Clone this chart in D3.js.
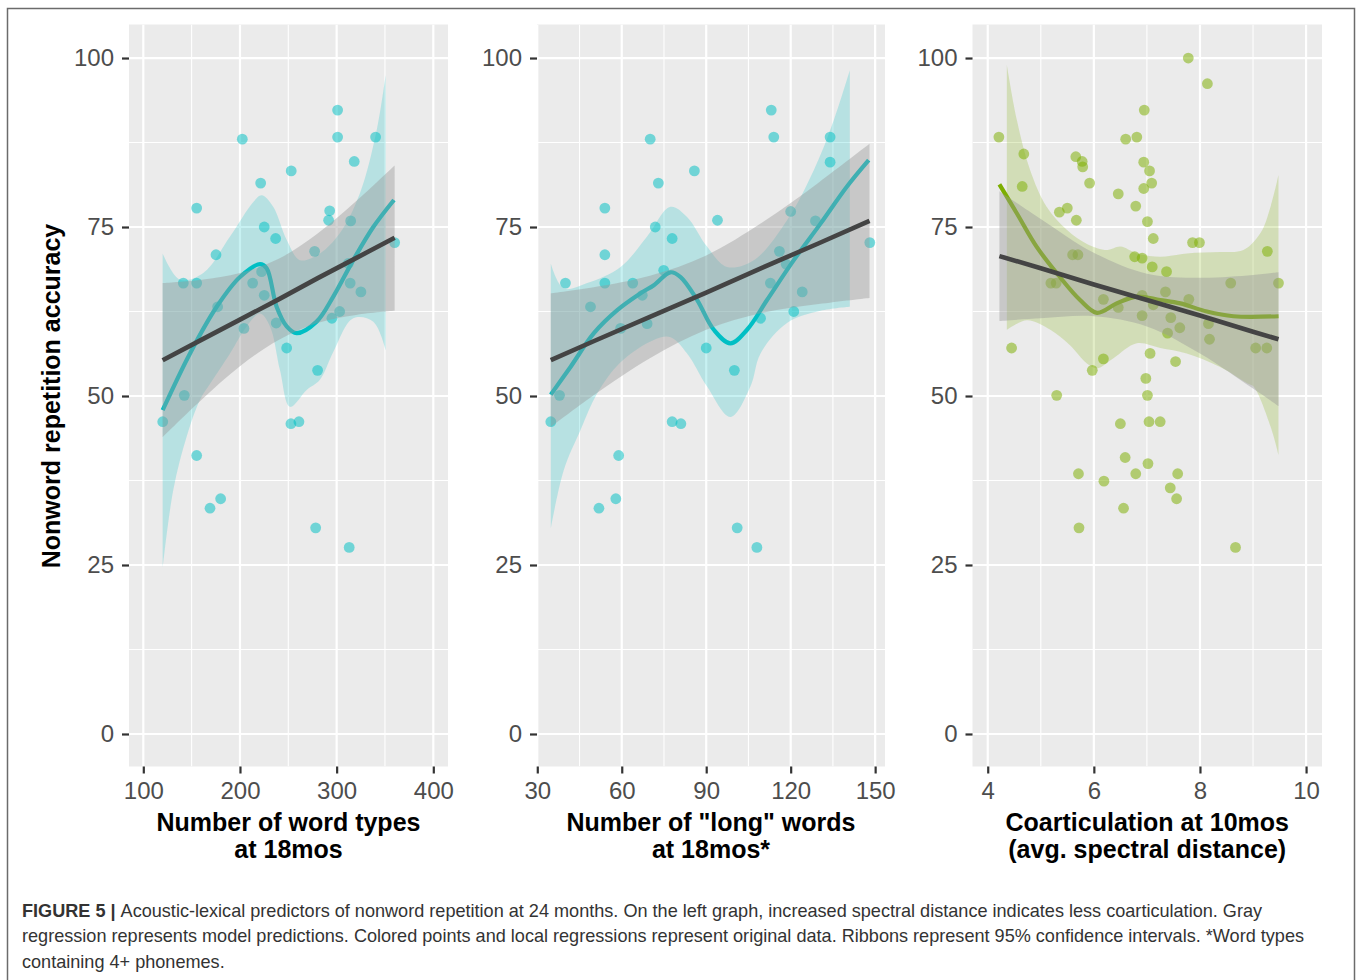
<!DOCTYPE html>
<html><head><meta charset="utf-8">
<script src="https://cdn.jsdelivr.net/npm/d3@7"></script>
<style>body{margin:0;background:#fff} svg{display:block}</style>
</head><body>
<svg id="chart" width="1357" height="980"></svg>
<script>
// ---------- data ----------
const yTicks = [0, 25, 50, 75, 100];
const yMinor = [12.5, 37.5, 62.5, 87.5];

const wordTypesTicks = [100, 200, 300, 400];
const wordTypesMinor = [150, 250, 350];
const longWordsTicks = [30, 60, 90, 120, 150];
const longWordsMinor = [45, 75, 105, 135];
const coartTicks = [4, 6, 8, 10];
const coartMinor = [5, 7, 9];

// panel 1: word types at 18mos vs accuracy
const wordTypesX = [301,202.4,301,340.3,318.2,253,221.4,155.2,292.8,291.7,314.5,225.1,236.9,175.2,277.2,360,222.4,312,141.4,155.2,213.1,314,225.1,325.1,176.9,303.1,295.1,204.1,237.5,248.3,280.3,142.4,120.1,155.2,252.7,261,180,169,278.3,313];
const wordTypesY = [92.3,88.0,88.3,88.3,84.7,83.3,81.5,77.8,77.4,76.0,75.9,75.0,73.3,70.9,71.4,72.7,68.4,69.6,66.7,66.7,66.7,66.7,64.9,65.4,63.2,62.5,61.5,60.0,60.8,57.1,53.8,50.1,46.2,41.2,45.9,46.2,34.8,33.4,30.5,27.6];

const wtLoessX = [120,148.3,175.9,200,220.7,227.6,237.9,248.3,258.6,279.3,296.5,317.2,337.9,359.3];
const wtLoessY = [47.9,56.3,63.2,67.6,69.5,68.9,63.2,60.3,59.3,61.0,64.7,70.1,75.0,79.0];
const wtBandUpX = [120,138,162,189.7,213.8,222.4,234.4,248.3,262,282.7,303.4,324.1,341.4,350.7];
const wtBandUpY = [71.1,67.2,68.2,73.6,78.7,79.7,78.0,73.1,70.1,71.1,74.1,80.0,89.3,97.5];
const wtBandLoX = [120,131,144.9,158.6,170,189.7,207,220.7,231,241.4,251.7,269,282.7,296.5,317.2,337.9,350.7];
const wtBandLoY = [24.5,36.1,44.0,49.4,52.0,56.3,60.3,62.2,60.3,53.8,48.4,50.9,52.4,56.5,61.5,61.0,56.8];
const wtModelX = [120,160,200,240,280,320,360];
const wtModelFit = [55.3,58.3,61.3,64.3,67.4,70.4,73.4];
const wtModelLo = [43.9,49.4,54.4,58.3,60.8,62.0,62.6];
const wtModelHi = [66.7,67.2,68.2,70.3,74.0,78.8,84.1];

// panel 2: "long" words at 18mos vs accuracy
const longWordsX = [113.1,70.1,114,134,134,85.8,73,54,120,94,128.8,71.9,77.9,54,116,148.1,74.9,118.4,40,54,63.9,112.8,67.3,124.1,48.9,121.1,109.3,69,59.6,90,100,37.9,34.8,58.9,77.9,81,57.9,51.9,101,108];
const longWordsY = [92.3,88.0,88.3,88.3,84.6,83.3,81.5,77.8,77.3,76.0,75.9,75.0,73.3,70.9,71.4,72.7,68.6,69.5,66.7,66.7,66.7,66.7,64.9,65.4,63.2,62.5,61.5,60.7,60.0,57.1,53.8,50.1,46.2,41.2,46.2,45.9,34.8,33.4,30.5,27.6];

const lwLoessX = [34.8,41.8,50.1,58.4,66.7,71.4,77.3,80.9,86.8,92.7,98.6,104.5,111.6,121.1,130.6,140,147.7];
const lwLoessY = [50.2,54.3,59.3,62.7,65.2,66.4,68.3,67.6,64.2,59.8,57.8,59.8,64.2,70.1,75.5,81.0,84.9];
const lwBandUpX = [34.8,39.4,47.7,59.6,69,77.3,83.2,90.3,97.4,106.9,118.7,128.2,135.3,141];
const lwBandUpY = [69.6,65.9,66.7,69.1,73.6,78.0,76.5,72.1,69.1,70.1,76.0,83.4,90.8,98.2];
const lwBandLoX = [34.8,39.4,45.4,51.3,59.6,71.4,77.3,83.2,90.3,98.6,105.7,109.3,118.7,130.6,141];
const lwBandLoY = [30.4,39.0,45.0,50.4,55.0,58.3,58.7,56.3,51.4,46.9,51.4,56.3,60.8,62.6,63.2];
const lwModelX = [34.8,50,70,90,110,130,148];
const lwModelFit = [55.3,58.1,61.7,65.3,69.0,72.6,75.9];
const lwModelLo = [45.4,50.1,55.6,59.8,62.3,63.6,64.5];
const lwModelHi = [65.2,66.1,67.8,70.8,75.7,81.6,87.3];

// panel 3: coarticulation at 10mos vs accuracy
const coartX = [7.78,8.14,6.95,4.21,6.60,6.81,4.68,5.66,5.78,5.79,6.94,7.05,5.92,7.09,4.65,6.94,6.46,6.79,5.35,5.50,5.67,7.01,7.12,7.86,7.99,9.27,5.60,5.70,6.77,6.91,7.10,7.37,5.19,5.29,8.58,9.48,7.35,6.18,6.91,7.79,6.46,7.12,6.91,7.45,8.16,7.62,7.39,8.18,4.45,9.05,9.26,7.06,6.18,7.54,5.97,6.98,5.30,7.01,6.50,7.04,7.25,6.59,7.02,5.71,6.79,7.58,6.19,7.44,7.56,6.56,5.72,8.67];
const coartY = [100,96.2,92.3,88.3,88.0,88.3,85.8,85.4,84.7,83.9,84.6,83.3,81.5,81.5,81.0,80.7,79.9,78.1,77.2,77.8,76.0,75.8,73.3,72.7,72.7,71.4,70.9,70.9,70.6,70.4,69.1,68.4,66.7,66.7,66.7,66.7,65.4,64.3,64.9,64.3,63.1,63.5,61.9,61.6,60.7,60.1,59.3,58.4,57.1,57.1,57.1,56.3,55.5,55.1,53.8,52.6,50.1,50.1,45.9,46.2,46.2,40.9,40.0,38.5,38.5,38.5,37.4,36.4,34.8,33.4,30.5,27.6];

const coLoessX = [4.22,4.55,4.92,5.36,5.74,6.06,6.43,6.81,7.25,7.63,8.13,8.63,9.48];
const coLoessY = [81.3,77.0,72.1,67.6,64.2,62.3,63.7,64.7,64.2,63.7,62.5,61.8,61.8];
const coBandUpX = [4.36,4.55,4.80,5.11,5.49,5.87,6.25,6.50,6.81,7.25,7.75,8.38,8.82,9.14,9.33,9.48];
const coBandUpY = [99.0,90.8,83.4,78.0,74.6,72.5,71.6,72.1,71.1,70.6,71.1,71.3,71.6,74.1,78.0,82.7];
const coBandLoX = [4.36,4.74,5.18,5.55,5.87,6.06,6.37,6.81,7.25,7.75,8.38,8.89,9.01,9.33,9.48];
const coBandLoY = [59.8,61.2,59.8,57.5,54.8,54.1,55.6,57.8,57.1,56.3,54.3,51.9,51.4,45.5,41.3];
const coModelX = [4.22,5,6,7,8,9,9.48];
const coModelFit = [70.7,68.9,66.5,64.2,61.9,59.5,58.4];
const coModelLo = [61.1,61.5,61.8,60.3,56.3,51.1,48.5];
const coModelHi = [80.3,76.2,71.2,68.1,67.5,67.9,68.3];

const xTitles = [["Number of word types", "at 18mos"], ["Number of \"long\" words", "at 18mos*"], ["Coarticulation at 10mos", "(avg. spectral distance)"]];
const yTitle = "Nonword repetition accuracy";
const captionBold = "FIGURE 5 |";
const captionLines = [
  "Acoustic-lexical predictors of nonword repetition at 24 months. On the left graph, increased spectral distance indicates less coarticulation. Gray",
  "regression represents model predictions. Colored points and local regressions represent original data. Ribbons represent 95% confidence intervals. *Word types",
  "containing 4+ phonemes."
];

// ---------- drawing ----------
const svg = d3.select("#chart");
const FONT = "'Liberation Sans', Arial, Helvetica, sans-serif";
const yTop = 24.5, yBottom = 766.5;
const y = d3.scaleLinear().domain([-4.81, 104.96]).range([yBottom, yTop]);

svg.append("rect").attr("x", 7.5).attr("y", 8.5).attr("width", 1347).attr("height", 1000)
  .attr("fill", "none").attr("stroke", "#6b6b6b").attr("stroke-width", 1.5);

const zip = (a, b) => a.map((v, i) => [v, b[i]]);

const panels = [
  { x0: 129, x1: 448, dom: [85.2, 415.2], ticks: wordTypesTicks, minor: wordTypesMinor,
    px: wordTypesX, py: wordTypesY, lx: wtLoessX, ly: wtLoessY,
    bux: wtBandUpX, buy: wtBandUpY, blx: wtBandLoX, bly: wtBandLoY,
    mx: wtModelX, mf: wtModelFit, mlo: wtModelLo, mhi: wtModelHi, color: "#00BFC4", title: xTitles[0] },
  { x0: 537, x1: 885, dom: [29.9, 153.5], ticks: longWordsTicks, minor: longWordsMinor,
    px: longWordsX, py: longWordsY, lx: lwLoessX, ly: lwLoessY,
    bux: lwBandUpX, buy: lwBandUpY, blx: lwBandLoX, bly: lwBandLoY,
    mx: lwModelX, mf: lwModelFit, mlo: lwModelLo, mhi: lwModelHi, color: "#00BFC4", title: xTitles[1] },
  { x0: 972.5, x1: 1322, dom: [3.713, 10.30], ticks: coartTicks, minor: coartMinor,
    px: coartX, py: coartY, lx: coLoessX, ly: coLoessY,
    bux: coBandUpX, buy: coBandUpY, blx: coBandLoX, bly: coBandLoY,
    mx: coModelX, mf: coModelFit, mlo: coModelLo, mhi: coModelHi, color: "#7CAE00", title: xTitles[2] }
];

const defs = svg.append("defs");

panels.forEach((p, i) => {
  const x = d3.scaleLinear().domain(p.dom).range([p.x0, p.x1]);
  const g = svg.append("g");
  defs.append("clipPath").attr("id", "clip" + i).append("rect")
    .attr("x", p.x0).attr("y", yTop).attr("width", p.x1 - p.x0).attr("height", yBottom - yTop);

  g.append("rect").attr("x", p.x0).attr("y", yTop).attr("width", p.x1 - p.x0).attr("height", yBottom - yTop)
    .attr("fill", "#EBEBEB");

  const grid = g.append("g").attr("clip-path", `url(#clip${i})`);
  grid.selectAll(".ymin").data(yMinor).join("line")
    .attr("x1", p.x0).attr("x2", p.x1).attr("y1", d => y(d)).attr("y2", d => y(d))
    .attr("stroke", "#fff").attr("stroke-width", 1.1);
  grid.selectAll(".xmin").data(p.minor).join("line")
    .attr("y1", yTop).attr("y2", yBottom).attr("x1", d => x(d)).attr("x2", d => x(d))
    .attr("stroke", "#fff").attr("stroke-width", 1.1);
  grid.selectAll(".ymaj").data(yTicks).join("line")
    .attr("x1", p.x0).attr("x2", p.x1).attr("y1", d => y(d)).attr("y2", d => y(d))
    .attr("stroke", "#fff").attr("stroke-width", 2.2);
  grid.selectAll(".xmaj").data(p.ticks).join("line")
    .attr("y1", yTop).attr("y2", yBottom).attr("x1", d => x(d)).attr("x2", d => x(d))
    .attr("stroke", "#fff").attr("stroke-width", 2.2);

  const marks = g.append("g").attr("clip-path", `url(#clip${i})`);
  const curveLine = d3.line().x(d => x(d[0])).y(d => y(d[1])).curve(d3.curveCatmullRom.alpha(0.5));
  // colored loess ribbon
  const up = curveLine(zip(p.bux, p.buy));
  const lo = curveLine(zip(p.blx, p.bly).reverse());
  marks.append("path").attr("d", up + "L" + lo.slice(1) + "Z")
    .attr("fill", p.color).attr("fill-opacity", 0.22);
  // points
  marks.selectAll("circle").data(zip(p.px, p.py)).join("circle")
    .attr("cx", d => x(d[0])).attr("cy", d => y(d[1])).attr("r", 5.4)
    .attr("fill", p.color).attr("fill-opacity", 0.52);
  // loess line
  marks.append("path").attr("d", curveLine(zip(p.lx, p.ly)))
    .attr("fill", "none").attr("stroke", p.color).attr("stroke-width", 4.2).attr("stroke-linecap", "butt");
  // model ribbon
  const area = d3.area().x(d => x(d[0])).y0(d => y(d[1])).y1(d => y(d[2])).curve(d3.curveCatmullRom.alpha(0.5));
  marks.append("path").attr("d", area(p.mx.map((v, k) => [v, p.mlo[k], p.mhi[k]])))
    .attr("fill", "#999999").attr("fill-opacity", 0.42);
  // model line
  const straight = d3.line().x(d => x(d[0])).y(d => y(d[1]));
  marks.append("path").attr("d", straight(zip(p.mx, p.mf)))
    .attr("fill", "none").attr("stroke", "#444444").attr("stroke-width", 4.6);

  // axes
  const ya = g.append("g").attr("transform", `translate(${p.x0},0)`)
    .call(d3.axisLeft(y).tickValues(yTicks).tickSize(7).tickPadding(8).tickFormat(d3.format("d")));
  const xa = g.append("g").attr("transform", `translate(0,${yBottom})`)
    .call(d3.axisBottom(x).tickValues(p.ticks).tickSize(7).tickPadding(8).tickFormat(d3.format("d")));
  [ya, xa].forEach(a => {
    a.select(".domain").remove();
    a.selectAll(".tick line").attr("stroke", "#333").attr("stroke-width", 2.2);
    a.selectAll(".tick text").attr("fill", "#4D4D4D").style("font-family", FONT).style("font-size", "24px");
  });

  const cx = (p.x0 + p.x1) / 2;
  p.title.forEach((t, k) => {
    g.append("text").attr("x", cx).attr("y", 831 + k * 27).attr("text-anchor", "middle")
      .style("font-family", FONT).style("font-size", "25px").style("font-weight", "bold")
      .attr("fill", "#000").text(t);
  });
});

svg.append("text").attr("transform", "translate(60,396) rotate(-90)").attr("text-anchor", "middle")
  .style("font-family", FONT).style("font-size", "25px").style("font-weight", "bold")
  .attr("fill", "#000").text(yTitle);

const cap = svg.append("g").style("font-family", FONT).style("font-size", "18.1px").attr("fill", "#333");
captionLines.forEach((line, k) => {
  const t = cap.append("text").attr("x", 22).attr("y", 916.5 + k * 25.5);
  if (k === 0) {
    t.append("tspan").style("font-weight", "bold").text(captionBold + " ");
  }
  t.append("tspan").text(line);
});
</script>
</body></html>
